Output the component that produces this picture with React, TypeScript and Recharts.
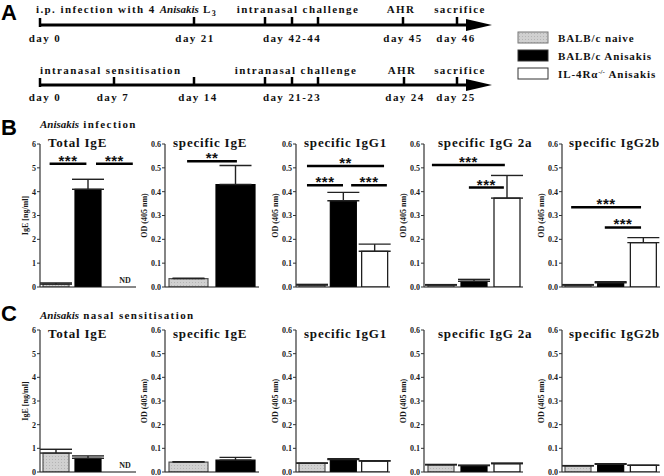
import React from "react"
import { BarChart, Bar, XAxis, YAxis, Cell, ErrorBar, ReferenceLine, ReferenceDot } from "recharts"

const SERIF = '"Liberation Serif", "Times New Roman", serif'
const SANS = '"Liberation Sans", Arial, sans-serif'

// groups (legend order)
const groups = ["BALB/c naive", "BALB/c Anisakis", "IL-4Rα-/- Anisakis"]
const fills = ["url(#greyDots)", "#000000", "#ffffff"]
const strokes = ["#555555", "#000000", "#111111"]

// timeline day labels
const infectionDays = ["day 0", "day 21", "day 42-44", "day 45", "day 46"]
const sensitisationDays = ["day 0", "day 7", "day 14", "day 21-23", "day 24", "day 25"]

// B: Anisakis infection
const infTotalIgE = [0.12, 4.1, 0]
const infTotalIgEErr = [0.05, 0.42, null]
const infSpecIgE = [0.035, 0.43]
const infSpecIgEErr = [0.002, 0.08]
const infIgG1 = [0.008, 0.362, 0.15]
const infIgG1Err = [0.003, 0.035, 0.03]
const infIgG2a = [0.008, 0.024, 0.373]
const infIgG2aErr = [0.002, 0.008, 0.095]
const infIgG2b = [0.008, 0.018, 0.186]
const infIgG2bErr = [0.002, 0.004, 0.021]

// C: Anisakis nasal sensitisation
const nasTotalIgE = [0.8, 0.58, 0]
const nasTotalIgEErr = [0.16, 0.1, null]
const nasSpecIgE = [0.042, 0.05]
const nasSpecIgEErr = [0.002, 0.012]
const nasIgG1 = [0.037, 0.053, 0.046]
const nasIgG1Err = [0.001, 0.003, 0.002]
const nasIgG2a = [0.03, 0.027, 0.035]
const nasIgG2aErr = [0.002, 0.002, 0.003]
const nasIgG2b = [0.026, 0.033, 0.028]
const nasIgG2bErr = [0.001, 0.002, 0.001]

// significance bars: from/to in category units (0..n), y in data units
const sigTotalIgE = [
  { from: 0.3, to: 1.45, y: 5.17, label: "***" },
  { from: 1.75, to: 2.9, y: 5.17, label: "***" },
]
const sigSpecIgE = [{ from: 0.47, to: 1.53, y: 0.528, label: "**" }]
const sigIgG1 = [
  { from: 0.35, to: 2.81, y: 0.508, label: "**" },
  { from: 0.35, to: 1.5, y: 0.427, label: "***" },
  { from: 1.76, to: 2.9, y: 0.427, label: "***" },
]
const sigIgG2a = [
  { from: 0.24, to: 2.45, y: 0.512, label: "***" },
  { from: 1.36, to: 2.42, y: 0.417, label: "***" },
]
const sigIgG2b = [
  { from: 0.28, to: 2.42, y: 0.335, label: "***" },
  { from: 1.31, to: 2.42, y: 0.25, label: "***" },
]

const igeTicks = [0, 1, 2, 3, 4, 5, 6]
const odTicks = [0, 0.1, 0.2, 0.3, 0.4, 0.5, 0.6]

type Sig = { from: number; to: number; y: number; label: string }

interface MiniProps {
  axisX: number
  plotTop: number
  plotH: number
  plotW: number
  values: number[]
  errs: (number | null)[]
  yMax: number
  ticks: number[]
  decimals: number
  yLabel: string
  labelGap: number
  sig?: Sig[]
  nd?: boolean
  barSize: number
}

const YW = 30
const M = { top: 6, right: 6, bottom: 4, left: 0 }
const starFont = { fontFamily: SANS, fontWeight: 700, fontSize: 15, fill: "#111", letterSpacing: 0.5 }

// the reference line is anchored on two category centres, then shifted by fractions of a band
function sigShape(s: Sig, a: number, b: number) {
  return (props: any) => {
    const band = (props.x2 - props.x1) / (b - a)
    const xa = props.x1 + (s.from - (a + 0.5)) * band
    const xb = props.x2 + (s.to - (b + 0.5)) * band
    const y = props.y1
    return (
      <g>
        <line x1={xa} y1={y} x2={xb} y2={y} stroke="#000" strokeWidth={2.5} />
        <text x={(xa + xb) / 2} y={y + 2} textAnchor="middle" style={starFont}>
          {s.label}
        </text>
      </g>
    )
  }
}

function MiniChart(p: MiniProps) {
  const data = p.values.map((v, i) => ({
    group: groups[i],
    value: v,
    err: p.errs[i] == null ? null : [0, p.errs[i]],
  }))
  const axisFont = { fontSize: 8, fontWeight: 700, fontFamily: SERIF, fill: "#1a1a1a" }

  return (
    <div style={{ position: "absolute", left: p.axisX - YW, top: p.plotTop - M.top }}>
      <BarChart width={YW + p.plotW + M.right} height={M.top + p.plotH + 1 + M.bottom} data={data} margin={M}>
        <XAxis dataKey="group" tick={false} tickLine={false} height={1} axisLine={{ stroke: "#111", strokeWidth: 1.2 }} />
        <YAxis
          width={YW}
          domain={[0, p.yMax]}
          ticks={p.ticks}
          interval={0}
          allowDataOverflow
          tickSize={3}
          tickMargin={1}
          tickLine={{ stroke: "#333" }}
          axisLine={{ stroke: "#333", strokeWidth: 1.2 }}
          tick={axisFont}
          tickFormatter={(v: number) => v.toFixed(p.decimals)}
          label={{
            value: p.yLabel,
            angle: -90,
            position: "insideLeft",
            offset: YW - p.labelGap,
            style: { ...axisFont, textAnchor: "middle" },
          }}
        />
        <Bar dataKey="value" barSize={p.barSize} isAnimationActive={false}>
          {data.map((d, i) => (
            <Cell key={d.group} fill={fills[i]} stroke={strokes[i]} strokeWidth={1.2} />
          ))}
          <ErrorBar dataKey="err" direction="y" width={16} stroke="#222" strokeWidth={1.4} isAnimationActive={false} />
        </Bar>
        {(p.sig || []).map((s, i) => {
          const a = Math.max(0, Math.round(s.from - 0.5))
          const b = Math.min(p.values.length - 1, Math.round(s.to - 0.5))
          return (
            <ReferenceLine
              key={i}
              segment={[{ x: groups[a], y: s.y }, { x: groups[b], y: s.y }]}
              ifOverflow="visible"
              shape={sigShape(s, a, b)}
            />
          )
        })}
        {p.nd && (
          <ReferenceDot
            x={groups[2]}
            y={0}
            r={0}
            fill="none"
            stroke="none"
            label={{
              content: (lp: any) => {
                const vb = lp.viewBox || {}
                return (
                  <text x={(vb.x || 0) + (vb.width || 0) / 2 + 5} y={(vb.y || 0) - 4} textAnchor="middle" style={axisFont}>
                    ND
                  </text>
                )
              },
            }}
          />
        )}
      </BarChart>
    </div>
  )
}

const rowB = { top: 144, h: 143 }
const rowC = { top: 330, h: 142 }

const tl = { fontFamily: SERIF, fontWeight: 700, fontSize: 11, letterSpacing: 1.4, fill: "#111" }
const titleFont = { fontFamily: SERIF, fontWeight: 700, fontSize: 13, letterSpacing: 0.8, fill: "#111" }
const legendFont = { fontFamily: SERIF, fontWeight: 700, fontSize: 11, letterSpacing: 0.9, fill: "#111" }
const letterFont = { fontFamily: SANS, fontWeight: 700, fontSize: 22, fill: "#000" }

// chart titles with the axis x of each column
const columns = [
  { axisX: 40, plotW: 96, title: "Total IgE", titleDx: 8 },
  { axisX: 165, plotW: 94, title: "specific IgE", titleDx: 8 },
  { axisX: 296, plotW: 94, title: "specific IgG1", titleDx: 8 },
  { axisX: 424, plotW: 99, title: "specific IgG 2a", titleDx: 14 },
  { axisX: 562, plotW: 98, title: "specific IgG2b", titleDx: 7 },
]

function Overlay() {
  const tick1 = [194, 265, 292, 318, 403, 457]
  const tick2 = [114, 194, 265, 292, 318, 404, 457]
  const day1X = [45, 195, 292, 403, 456]
  const day2X = [45, 113, 198, 292, 405, 456]
  return (
    <svg width={664} height={476} style={{ position: "absolute", left: 0, top: 0, pointerEvents: "none" }}>
      <defs>
        <pattern id="greyDots" width="3" height="3" patternUnits="userSpaceOnUse">
          <rect width="3" height="3" fill="#d0d0d0" />
          <rect width="1" height="1" fill="#b4b4b4" />
        </pattern>
      </defs>
      <text x={1} y={20} style={letterFont}>A</text>
      <text x={1} y={135} style={letterFont}>B</text>
      <text x={1} y={321} style={letterFont}>C</text>

      {/* timeline 1 */}
      <text x={36} y={13} style={tl}>
        i.p. infection with 4 <tspan fontStyle="italic" letterSpacing={0}>Anisakis</tspan> L
        <tspan fontSize={8} dy={3} letterSpacing={0}>3</tspan>
      </text>
      <text x={298} y={13} textAnchor="middle" style={tl}>intranasal challenge</text>
      <text x={401} y={13} textAnchor="middle" style={tl}>AHR</text>
      <text x={460} y={13} textAnchor="middle" style={tl}>sacrifice</text>
      <line x1={39} y1={25} x2={470} y2={25} stroke="#000" strokeWidth={3} />
      <polygon points="466,19 492,25 466,31" fill="#000" />
      <line x1={40} y1={18} x2={40} y2={27} stroke="#000" strokeWidth={2.5} />
      {tick1.map((x) => (
        <line key={x} x1={x} y1={17} x2={x} y2={25} stroke="#000" strokeWidth={2.5} />
      ))}
      {infectionDays.map((d, i) => (
        <text key={d} x={day1X[i]} y={42} textAnchor="middle" style={tl}>{d}</text>
      ))}

      {/* timeline 2 */}
      <text x={40} y={74} style={tl}>intranasal sensitisation</text>
      <text x={296} y={74} textAnchor="middle" style={tl}>intranasal challenge</text>
      <text x={402} y={74} textAnchor="middle" style={tl}>AHR</text>
      <text x={460} y={74} textAnchor="middle" style={tl}>sacrifice</text>
      <line x1={39} y1={85} x2={470} y2={85} stroke="#000" strokeWidth={3} />
      <polygon points="466,79 492,85 466,91" fill="#000" />
      <line x1={40} y1={78} x2={40} y2={87} stroke="#000" strokeWidth={2.5} />
      {tick2.map((x) => (
        <line key={x} x1={x} y1={77} x2={x} y2={85} stroke="#000" strokeWidth={2.5} />
      ))}
      {sensitisationDays.map((d, i) => (
        <text key={d} x={day2X[i]} y={101} textAnchor="middle" style={tl}>{d}</text>
      ))}

      {/* legend */}
      {groups.map((g, i) => (
        <g key={g}>
          <rect x={518} y={32 + i * 18} width={30} height={11} fill={fills[i]} stroke={i === 0 ? "#777" : "#333"} strokeWidth={1} />
          {i < 2 ? (
            <text x={558} y={42 + i * 18} style={legendFont}>{g}</text>
          ) : (
            <text x={558} y={42 + i * 18} style={legendFont}>
              IL-4Rα<tspan fontSize={7} dy={-4} letterSpacing={0}>-/-</tspan>
              <tspan dy={4}> Anisakis</tspan>
            </text>
          )}
        </g>
      ))}

      {/* section titles */}
      <text x={40} y={128} style={tl}>
        <tspan fontStyle="italic" letterSpacing={0}>Anisakis</tspan> infection
      </text>
      <text x={40} y={319} style={tl}>
        <tspan fontStyle="italic" letterSpacing={0}>Anisakis</tspan> nasal sensitisation
      </text>

      {/* chart titles */}
      {columns.map((c) => (
        <g key={c.title}>
          <text x={c.axisX + c.titleDx} y={147} style={titleFont}>{c.title}</text>
          <text x={c.axisX + c.titleDx} y={338} style={titleFont}>{c.title}</text>
        </g>
      ))}
    </svg>
  )
}

export default function App() {
  const od = { yMax: 0.6, ticks: odTicks, decimals: 1, yLabel: "OD (405 nm)", labelGap: 21 }
  const ige = { yMax: 6, ticks: igeTicks, decimals: 0, yLabel: "IgE [ng/ml]", labelGap: 15 }
  const [c0, c1, c2, c3, c4] = columns
  return (
    <div style={{ position: "relative", width: 664, height: 476, background: "#fff", overflow: "hidden" }}>
      <style>{"body{margin:0}"}</style>
      <MiniChart {...ige} axisX={c0.axisX} plotW={c0.plotW} plotTop={rowB.top} plotH={rowB.h} values={infTotalIgE} errs={infTotalIgEErr} sig={sigTotalIgE} nd barSize={26} />
      <MiniChart {...od} axisX={c1.axisX} plotW={c1.plotW} plotTop={rowB.top} plotH={rowB.h} values={infSpecIgE} errs={infSpecIgEErr} sig={sigSpecIgE} barSize={39} />
      <MiniChart {...od} axisX={c2.axisX} plotW={c2.plotW} plotTop={rowB.top} plotH={rowB.h} values={infIgG1} errs={infIgG1Err} sig={sigIgG1} barSize={26} />
      <MiniChart {...od} axisX={c3.axisX} plotW={c3.plotW} plotTop={rowB.top} plotH={rowB.h} values={infIgG2a} errs={infIgG2aErr} sig={sigIgG2a} barSize={26} />
      <MiniChart {...od} axisX={c4.axisX} plotW={c4.plotW} plotTop={rowB.top} plotH={rowB.h} values={infIgG2b} errs={infIgG2bErr} sig={sigIgG2b} barSize={26} />

      <MiniChart {...ige} axisX={c0.axisX} plotW={c0.plotW} plotTop={rowC.top} plotH={rowC.h} values={nasTotalIgE} errs={nasTotalIgEErr} nd barSize={26} />
      <MiniChart {...od} axisX={c1.axisX} plotW={c1.plotW} plotTop={rowC.top} plotH={rowC.h} values={nasSpecIgE} errs={nasSpecIgEErr} barSize={39} />
      <MiniChart {...od} axisX={c2.axisX} plotW={c2.plotW} plotTop={rowC.top} plotH={rowC.h} values={nasIgG1} errs={nasIgG1Err} barSize={26} />
      <MiniChart {...od} axisX={c3.axisX} plotW={c3.plotW} plotTop={rowC.top} plotH={rowC.h} values={nasIgG2a} errs={nasIgG2aErr} barSize={26} />
      <MiniChart {...od} axisX={c4.axisX} plotW={c4.plotW} plotTop={rowC.top} plotH={rowC.h} values={nasIgG2b} errs={nasIgG2bErr} barSize={26} />
      <Overlay />
    </div>
  )
}
